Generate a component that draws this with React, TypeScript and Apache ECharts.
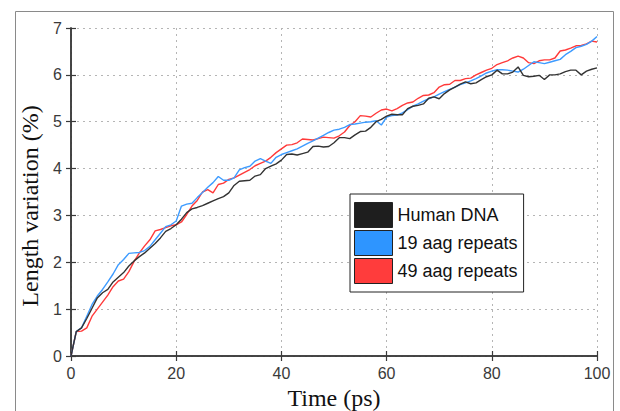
import React, { useEffect, useRef } from "react";
import * as echarts from "echarts";

const times: number[] = Array.from({ length: 101 }, (_, i) => i);

const humanDNA: number[] = [
  0, 0.52, 0.6, 0.8, 1.02, 1.24, 1.35, 1.42, 1.58, 1.68,
  1.78, 1.92, 2.03, 2.12, 2.2, 2.3, 2.4, 2.52, 2.66, 2.72,
  2.8, 2.92, 3.06, 3.14, 3.17, 3.21, 3.26, 3.31, 3.36, 3.4,
  3.48, 3.64, 3.73, 3.74, 3.75, 3.84, 3.87, 4.0, 4.05, 4.1,
  4.18, 4.3, 4.31, 4.29, 4.32, 4.35, 4.47, 4.48, 4.46, 4.47,
  4.55, 4.66, 4.66, 4.64, 4.72, 4.79, 4.8, 4.88, 5.0, 5.05,
  5.12, 5.16, 5.15, 5.15, 5.28, 5.33, 5.35, 5.38, 5.5, 5.53,
  5.49, 5.6, 5.68, 5.74, 5.8, 5.85, 5.81, 5.83, 5.9, 5.96,
  6.0, 6.1, 6.02, 6.02, 6.06, 6.17, 5.99, 5.96, 5.97, 5.99,
  5.9, 6.0, 6.0, 6.02, 6.07, 6.1, 6.1, 6.0, 6.08, 6.12,
  6.15,
];

const aag19: number[] = [
  0, 0.52, 0.6, 0.85, 1.1, 1.28, 1.42, 1.58, 1.75, 1.95,
  2.06, 2.19, 2.2, 2.21, 2.25, 2.34, 2.48, 2.62, 2.76, 2.8,
  2.88, 3.2, 3.24, 3.26, 3.38, 3.49, 3.6, 3.7, 3.83, 3.75,
  3.75, 3.8, 3.97, 4.02, 4.05, 4.16, 4.21, 4.16, 4.11, 4.24,
  4.3, 4.34, 4.38, 4.42, 4.48, 4.54, 4.59, 4.65, 4.71, 4.77,
  4.82, 4.84, 4.88, 4.94, 4.95, 4.97, 4.99, 5.0, 5.02, 4.93,
  5.1, 5.13, 5.14, 5.19, 5.26, 5.33, 5.38, 5.44, 5.49, 5.53,
  5.59, 5.64, 5.69, 5.74, 5.79, 5.83, 5.87, 5.92, 5.98, 6.04,
  6.08, 6.11, 6.11, 6.1, 6.08, 6.06, 6.12, 6.2, 6.28, 6.26,
  6.24, 6.27, 6.3, 6.33, 6.43, 6.5, 6.58, 6.61, 6.65, 6.72,
  6.82,
];

const aag49: number[] = [
  0, 0.52, 0.53, 0.6, 0.85, 1.0, 1.15, 1.3, 1.48, 1.6,
  1.64, 1.8, 2.02, 2.2, 2.35, 2.48, 2.67, 2.7, 2.74, 2.78,
  2.8, 2.86, 3.02, 3.2, 3.32, 3.5, 3.55, 3.48, 3.66, 3.69,
  3.77, 3.8, 3.86, 3.92, 3.98, 4.06, 4.11, 4.16, 4.24, 4.34,
  4.42, 4.5, 4.51, 4.55, 4.63, 4.62, 4.61, 4.64, 4.67, 4.66,
  4.65, 4.7, 4.78, 4.92, 5.0, 5.13, 5.12, 5.1, 5.18, 5.25,
  5.27, 5.23, 5.28, 5.35, 5.4, 5.42, 5.5, 5.56, 5.57, 5.62,
  5.74, 5.79, 5.8, 5.88, 5.88, 5.92, 5.93, 6.0, 6.05, 6.1,
  6.14, 6.22, 6.26, 6.3, 6.36, 6.4, 6.36, 6.26, 6.24, 6.3,
  6.32, 6.32, 6.36, 6.51, 6.53, 6.57, 6.62, 6.63, 6.66, 6.72,
  6.7,
];

const seriesNames: string[] = ["Human DNA", "19 aag repeats", "49 aag repeats"];
const seriesColors: string[] = ["#333333", "#3d9bff", "#ff3a3a"];
const legendColors: string[] = ["#1e1e1e", "#2e95ff", "#ff3c3c"];
const xAxisTitle = "Time (ps)";
const yAxisTitle = "Length variation (%)";

export default function App() {
  const ref = useRef<HTMLDivElement>(null);

  useEffect(() => {
    if (!ref.current) return;
    const chart = echarts.init(ref.current, undefined, { renderer: "svg" });
    const allData = [humanDNA, aag19, aag49];
    const tickFont = { fontFamily: "Liberation Sans, Arial, sans-serif", fontSize: 16, color: "#3a3a3a" };
    const splitLine = { show: true, lineStyle: { color: "#b5b5b5", type: [2, 4] as any, width: 1 } };
    const axisLine = { show: true, lineStyle: { color: "#3a3a3a", width: 1.5 } };
    const axisTick = { show: true, inside: true, length: 5, lineStyle: { color: "#3a3a3a", width: 1.2 } };
    chart.setOption({
      animation: false,
      backgroundColor: "#ffffff",
      grid: { left: 71, right: 23, top: 28, bottom: 55, show: false },
      xAxis: [
        {
          type: "value", min: 0, max: 100, interval: 20, position: "bottom",
          axisLine, axisTick, splitLine,
          axisLabel: { ...tickFont, margin: 9 },
        },
        {
          type: "value", min: 0, max: 100, interval: 20, position: "top",
          axisLine, axisTick, splitLine: { show: false }, axisLabel: { show: false },
        },
      ],
      yAxis: [
        {
          type: "value", min: 0, max: 7, interval: 1, position: "left",
          axisLine, axisTick, splitLine,
          axisLabel: { ...tickFont, margin: 9 },
        },
        {
          type: "value", min: 0, max: 7, interval: 1, position: "right",
          axisLine, axisTick, splitLine: { show: false }, axisLabel: { show: false },
        },
      ],
      legend: {
        show: true,
        orient: "vertical",
        left: 350,
        top: 194,
        icon: "rect",
        itemWidth: 38,
        itemHeight: 25,
        itemGap: 2,
        padding: [8, 6, 8, 4],
        backgroundColor: "#ffffff",
        borderColor: "#222",
        borderWidth: 1,
        borderRadius: 0,
        itemStyle: { borderColor: "#222", borderWidth: 1 },
        textStyle: { fontFamily: "Liberation Sans, Arial, sans-serif", fontSize: 18, color: "#111" },
        data: seriesNames.map((n, i) => ({ name: n, itemStyle: { color: legendColors[i], borderColor: "#222", borderWidth: 1 } })),
      },
      graphic: [
        {
          type: "rect",
          shape: { x: 15.5, y: 11.5, width: 598, height: 420 },
          style: { fill: "none", stroke: "#8a8a8a", lineWidth: 1 },
          silent: true,
          z: -10,
        },
        {
          type: "text",
          x: 30,
          y: 206,
          rotation: Math.PI / 2,
          style: {
            text: yAxisTitle,
            fontFamily: "Liberation Serif, Times New Roman, serif",
            fontSize: 24,
            fill: "#111",
            textAlign: "center",
            textVerticalAlign: "middle",
          },
        },
        {
          type: "text",
          x: 334,
          y: 398,
          style: {
            text: xAxisTitle,
            fontFamily: "Liberation Serif, Times New Roman, serif",
            fontSize: 24,
            fill: "#111",
            textAlign: "center",
            textVerticalAlign: "middle",
          },
        },
      ],
      series: seriesNames.map((name, i) => ({
        name,
        type: "line",
        xAxisIndex: 0,
        yAxisIndex: 0,
        showSymbol: false,
        symbol: "none",
        color: seriesColors[i],
        lineStyle: { color: seriesColors[i], width: 1.4 },
        data: times.map((t, k) => [t, allData[i][k]]),
        z: 5 - i,
      })),
    });
    return () => chart.dispose();
  }, []);

  return (
    <div
      ref={ref}
      style={{ position: "fixed", left: 0, top: 0, width: 620, height: 411 }}
    />
  );
}
